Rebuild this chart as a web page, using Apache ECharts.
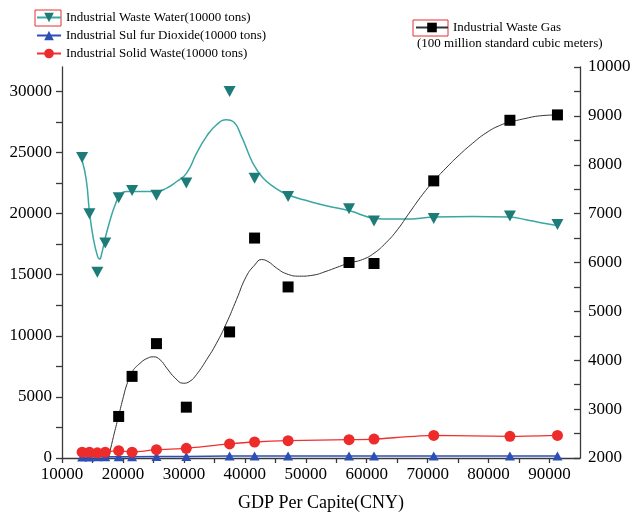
<!DOCTYPE html>
<html>
<head>
<meta charset="utf-8">
<script src="https://cdn.jsdelivr.net/npm/echarts@6/dist/echarts.min.js"></script>
<style>
html,body{margin:0;padding:0;background:#fff;}
#chart{width:634px;height:517px;}
</style>
</head>
<body>
<div id="chart"></div>
<script>
// ---- data ----
const gdp = [13300, 14500, 15800, 17100, 19300, 21500, 25500, 30400, 37500, 41600, 47100, 57100, 61200, 71000, 83500, 91300];
const wasteWater = [24600, 20000, 15200, 17600, 21300, 21900, 21500, 22500, 30000, 22900, 21400, 20400, 19400, 19600, 19800, 19100];
const sulfurDioxide = [90, 90, 95, 100, 110, 105, 120, 130, 160, 170, 170, 160, 165, 170, 160, 165];
const solidWaste = [480, 470, 420, 480, 600, 480, 680, 790, 1150, 1310, 1420, 1500, 1550, 1850, 1770, 1850];
const wasteGas = [null, null, null, null, 2850, 3670, 4340, 3040, 4580, 6500, 5500, 6000, 5980, 7670, 8910, 9020];

// fitted curves as drawn in the reference
const waterCurveX = [13270, 13980, 14530, 15180, 15840, 16160, 16540, 17090, 17910, 18730, 19540, 20630, 23360, 25540, 27180, 28810, 30450, 32090, 33720, 35360, 36990, 38080, 39450, 40810, 41630, 42990, 44630, 47080, 50630, 53350, 57170, 61210, 63670, 66410, 70960, 77380, 83410, 86150, 88340, 91250];
const waterCurveY = [24410, 22770, 20040, 17860, 16500, 16280, 16770, 18000, 19500, 20730, 21540, 21820, 21820, 21820, 22090, 22630, 23320, 24950, 26320, 27270, 27680, 27540, 26320, 24680, 23860, 22910, 22230, 21540, 21000, 20640, 20230, 19630, 19550, 19550, 19720, 19770, 19720, 19500, 19280, 19030];
const gasCurveX = [17630, 18450, 19270, 20090, 20630, 21450, 22820, 24180, 25000, 26090, 27180, 28540, 29900, 30990, 32090, 33720, 35360, 36990, 38630, 40260, 41630, 42720, 43810, 45170, 46810, 48990, 51170, 53350, 55530, 57170, 59290, 61210, 63130, 65040, 66960, 69160, 70960, 72990, 75190, 77380, 79570, 81760, 83520, 86150, 88340, 91360];
const gasCurveY = [2000, 2440, 2850, 3260, 3500, 3750, 3940, 4050, 4070, 4010, 3840, 3640, 3530, 3570, 3710, 4010, 4350, 4760, 5240, 5720, 5950, 6060, 6020, 5890, 5770, 5720, 5740, 5820, 5920, 5990, 6060, 6190, 6400, 6670, 7010, 7390, 7660, 7930, 8200, 8440, 8650, 8800, 8870, 8950, 9000, 9020];

// axis ticks / labels
const xTicks = [10000,15000,20000,25000,30000,35000,40000,45000,50000,55000,60000,65000,70000,75000,80000,85000,90000];
const xLabels = [10000,20000,30000,40000,50000,60000,70000,80000,90000];
const leftTicks = [0,2500,5000,7500,10000,12500,15000,17500,20000,22500,25000,27500,30000];
const leftLabels = [0,5000,10000,15000,20000,25000,30000];
const rightTicks = [2000,2500,3000,3500,4000,4500,5000,5500,6000,6500,7000,7500,8000,8500,9000,9500,10000];
const rightLabels = [2000,3000,4000,5000,6000,7000,8000,9000,10000];

const names = {
  water: 'Industrial Waste Water(10000 tons)',
  so2: 'Industrial Sul fur Dioxide(10000 tons)',
  solid: 'Industrial Solid Waste(10000 tons)',
  gas: 'Industrial Waste Gas'
};

const FONT = 'Liberation Serif';
const TRI_DOWN = 'path://M0,0 L10,0 L5,9 Z';
const zip = (a, b) => a.map((v, i) => [v, b[i]]);
const plain = v => String(v);

const chart = echarts.init(document.getElementById('chart'), null, {renderer: 'canvas'});
const axisLineStyle = {color: '#3a3a3a', width: 1.3};

chart.setOption({
  animation: false,
  backgroundColor: '#fff',
  textStyle: {fontFamily: FONT, color: '#000'},
  grid: {left: 62, right: 54, top: 67, bottom: 58},
  legend: [
    {
      orient: 'vertical', left: 36, top: 11, padding: 0,
      itemWidth: 24, itemHeight: 12, itemGap: 5,
      textStyle: {fontFamily: FONT, fontSize: 13, color: '#000'},
      data: [names.water, names.so2, names.solid]
    },
    {
      orient: 'vertical', left: 415, top: 21, padding: 0,
      itemWidth: 32, itemHeight: 12, itemGap: 5,
      textStyle: {fontFamily: FONT, fontSize: 13, color: '#000'},
      data: [names.gas]
    }
  ],
  graphic: [
    {type: 'rect', shape: {x: 35, y: 10, width: 26, height: 16}, style: {fill: 'none', stroke: '#e8302f', lineWidth: 1}},
    {type: 'rect', shape: {x: 413, y: 20, width: 35, height: 16}, style: {fill: 'none', stroke: '#e8302f', lineWidth: 1}},
    {type: 'text', left: 417, top: 37, style: {text: '(100 million standard cubic meters)', font: '13px "Liberation Serif"', fill: '#000'}}
  ],
  xAxis: {
    type: 'value', min: 10000, max: 95000,
    name: 'GDP Per Capite(CNY)', nameLocation: 'middle', nameGap: 36,
    nameTextStyle: {fontFamily: FONT, fontSize: 18, color: '#000'},
    splitLine: {show: false},
    axisLine: {show: true, onZero: false, lineStyle: axisLineStyle},
    axisTick: {show: true, length: 5, customValues: xTicks, lineStyle: axisLineStyle},
    axisLabel: {customValues: xLabels, formatter: plain, fontFamily: FONT, fontSize: 17, color: '#000', margin: 8}
  },
  yAxis: [
    {
      type: 'value', min: 0, max: 32000, position: 'left',
      splitLine: {show: false},
      axisLine: {show: true, onZero: false, lineStyle: axisLineStyle},
      axisTick: {show: true, length: 6, customValues: leftTicks, lineStyle: axisLineStyle},
      axisLabel: {customValues: leftLabels, formatter: plain, fontFamily: FONT, fontSize: 17, color: '#000', margin: 10}
    },
    {
      type: 'value', min: 2000, max: 10000, position: 'right',
      splitLine: {show: false},
      axisLine: {show: true, onZero: false, lineStyle: axisLineStyle},
      axisTick: {show: true, inside: true, length: 6, customValues: rightTicks, lineStyle: axisLineStyle},
      axisLabel: {customValues: rightLabels, formatter: plain, fontFamily: FONT, fontSize: 17, color: '#000', margin: 8}
    }
  ],
  series: [
    {
      name: names.water, type: 'line', yAxisIndex: 0, smooth: true,
      showSymbol: false, symbol: TRI_DOWN, symbolSize: [12, 11],
      data: zip(waterCurveX, waterCurveY),
      lineStyle: {color: '#3aa7a2', width: 1.5},
      itemStyle: {color: '#1d7c78'}, z: 2
    },
    {
      name: 'waterPts', type: 'scatter', yAxisIndex: 0,
      symbol: TRI_DOWN, symbolSize: [12, 11],
      data: zip(gdp, wasteWater),
      itemStyle: {color: '#1d7c78', opacity: 1}, z: 3
    },
    {
      name: names.gas, type: 'line', yAxisIndex: 1, smooth: true,
      showSymbol: false, symbol: 'rect', symbolSize: 10,
      data: zip(gasCurveX, gasCurveY),
      lineStyle: {color: '#333', width: 1},
      itemStyle: {color: '#000'}, z: 2
    },
    {
      name: 'gasPts', type: 'scatter', yAxisIndex: 1,
      symbol: 'rect', symbolSize: 11,
      data: zip(gdp, wasteGas).filter(d => d[1] != null),
      itemStyle: {color: '#000', opacity: 1}, z: 3
    },
    {
      name: names.so2, type: 'line', yAxisIndex: 0,
      symbol: 'triangle', symbolSize: [10, 9],
      data: zip(gdp, sulfurDioxide),
      lineStyle: {color: '#2b4fb5', width: 1.5},
      itemStyle: {color: '#2b4fb5'}, z: 4
    },
    {
      name: names.solid, type: 'line', yAxisIndex: 0, smooth: 0.2,
      symbol: 'circle', symbolSize: 11,
      data: zip(gdp, solidWaste),
      lineStyle: {color: '#f0302e', width: 1.3},
      itemStyle: {color: '#ee2b2b'}, z: 5
    }
  ]
});
</script>
</body>
</html>
